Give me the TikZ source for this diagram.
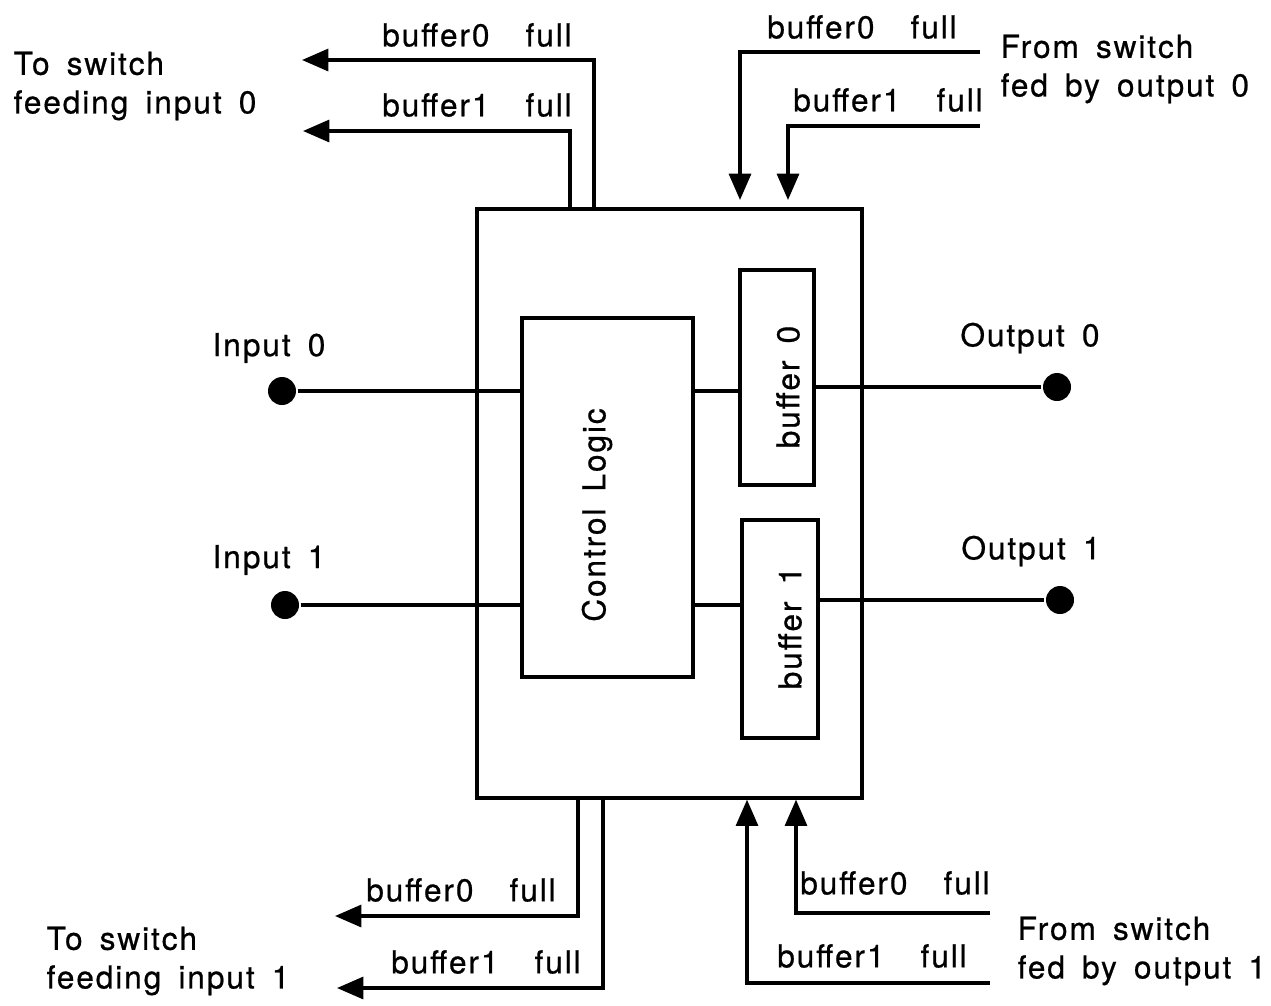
\documentclass[tikz,border=0pt]{standalone}
\usepackage{fontspec}
\setmainfont{TeX Gyre Heros}[LetterSpace=6,WordSpace=1.6,FakeBold=0.6]
\usetikzlibrary{arrows.meta}
\begin{document}
\begin{tikzpicture}[x=0.02cm,y=-0.02cm,line width=1.9pt,line cap=butt,line join=miter,
    >={Triangle[length=15pt,width=12.5pt]},font=\fontsize{18}{22}\selectfont]
    \tikzset{box/.style={draw,inner sep=0pt},
        dot/.style={circle,fill,inner sep=0pt,minimum size=0.56cm},
        txt/.style={inner sep=0pt}
    }
    \useasboundingbox (0,0) rectangle (1271,1005);
    % switch and its parts
    \node[box,minimum width=7.7cm,minimum height=11.78cm] (sw) at (669.5,503.5) {};
    \node[box,minimum width=3.42cm,minimum height=7.18cm] (ctrl) at (607.5,497.5) {};
    \node[box,minimum width=1.48cm,minimum height=4.3cm] (buf0) at (777,377.5) {};
    \node[box,minimum width=1.52cm,minimum height=4.36cm] (buf1) at (780,629) {};
    \node[txt,rotate=90] (ctrltxt) at (597,515) {Control Logic};
    \node[txt,rotate=90] (buf0txt) at (788,387) {buffer 0};
    \node[txt,rotate=90] (buf1txt) at (790,628) {buffer 1};
    % ports
    \node[dot] (in0) at (282,391) {};
    \node[dot] (in1) at (285,605) {};
    \node[dot] (out0) at (1057,387) {};
    \node[dot] (out1) at (1060,600) {};
    \node[txt] (lin0) at (269,348) {Input 0};
    \node[txt] (lin1) at (269,560) {Input 1};
    \node[txt] (lout0) at (1030,338) {Output 0};
    \node[txt] (lout1) at (1031,551) {Output 1};
    \draw (in0) -- (in0 -| ctrl.west);
    \draw (in1) -- (in1 -| ctrl.west);
    \draw (ctrl.east |- in0) -- (buf0.west |- in0);
    \draw (ctrl.east |- in1) -- (buf1.west |- in1);
    \draw (buf0.east |- out0) -- (out0);
    \draw (buf1.east |- out1) -- (out1);
    % to switch feeding input 0
    \coordinate (tl0) at (302,60);
    \coordinate (tl1) at (303,131);
    \coordinate (tlb0) at (594,60);
    \coordinate (tlb1) at (570,131);
    \draw[->] (tlb0 |- sw.north) -- (tlb0) -- (tl0);
    \draw[->] (tlb1 |- sw.north) -- (tlb1) -- (tl1);
    \node[txt] (tlf0) at (477,35) {buffer0\hspace{.6em} full};
    \node[txt] (tlf1) at (477,105) {buffer1\hspace{.6em} full};
    \node[txt,anchor=west,align=left] (tlsw) at (12,86) {To switch\\feeding input 0};
    % from switch fed by output 0
    \coordinate (tr0) at (980,52);
    \coordinate (tr1) at (980,126);
    \coordinate (trb0) at (740,52);
    \coordinate (trb1) at (788,126);
    \coordinate (trt0) at (740,200);
    \coordinate (trt1) at (788,200);
    \draw[->] (tr0) -- (trb0) -- (trt0);
    \draw[->] (tr1) -- (trb1) -- (trt1);
    \node[txt] (trf0) at (862,27) {buffer0\hspace{.6em} full};
    \node[txt] (trf1) at (888,100) {buffer1\hspace{.6em} full};
    \node[txt,anchor=west,align=left] (trsw) at (999,69) {From switch\\fed by output 0};
    % to switch feeding input 1
    \coordinate (bl0) at (335,916);
    \coordinate (bl1) at (337,988);
    \coordinate (blb0) at (578,916);
    \coordinate (blb1) at (603,988);
    \draw[->] (blb0 |- sw.south) -- (blb0) -- (bl0);
    \draw[->] (blb1 |- sw.south) -- (blb1) -- (bl1);
    \node[txt] (blf0) at (461,890) {buffer0\hspace{.6em} full};
    \node[txt] (blf1) at (486,962) {buffer1\hspace{.6em} full};
    \node[txt,anchor=west,align=left] (blsw) at (45,961) {To switch\\feeding input 1};
    % from switch fed by output 1
    \coordinate (br0) at (990,913);
    \coordinate (br1) at (990,983);
    \coordinate (brb0) at (796,913);
    \coordinate (brb1) at (747,983);
    \draw[->] (br0) -- (brb0) -- (brb0 |- sw.south);
    \draw[->] (br1) -- (brb1) -- (brb1 |- sw.south);
    \node[txt] (brf0) at (895,883) {buffer0\hspace{.6em} full};
    \node[txt] (brf1) at (872,956) {buffer1\hspace{.6em} full};
    \node[txt,anchor=west,align=left] (brsw) at (1016,951) {From switch\\fed by output 1};
\end{tikzpicture}
\end{document}
